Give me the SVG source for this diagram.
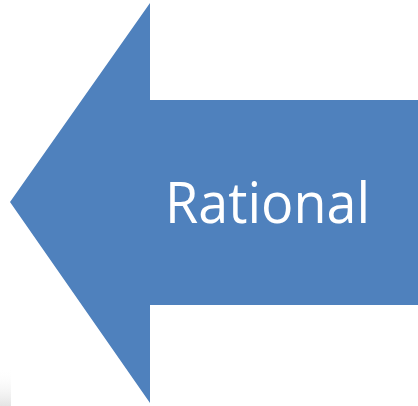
<svg xmlns="http://www.w3.org/2000/svg" width="418" height="406" viewBox="0 0 418 406">
  <defs>
    <linearGradient id="shade" x1="0" y1="0" x2="0" y2="1">
      <stop offset="0" stop-color="#ffffff" stop-opacity="0"/>
      <stop offset="1" stop-color="#e4e4e4"/>
    </linearGradient>
    <style>
      .arrow { fill: #4F81BD; }
      .label { fill: #ffffff; font-family: "Open Sans", "Noto Sans", "Liberation Sans", sans-serif; font-size: 56px; }
    </style>
  </defs>
  <rect width="418" height="406" fill="#ffffff"/>
  <rect x="0" y="368" width="11" height="38" fill="url(#shade)"/>
  <g id="arrow">
    <polygon class="arrow" points="10,202 150,3 150,100 418,100 418,305 150,305 150,403"/>
    <text class="label" x="165" y="223" textLength="205" lengthAdjust="spacingAndGlyphs">Rational</text>
  </g>
</svg>
